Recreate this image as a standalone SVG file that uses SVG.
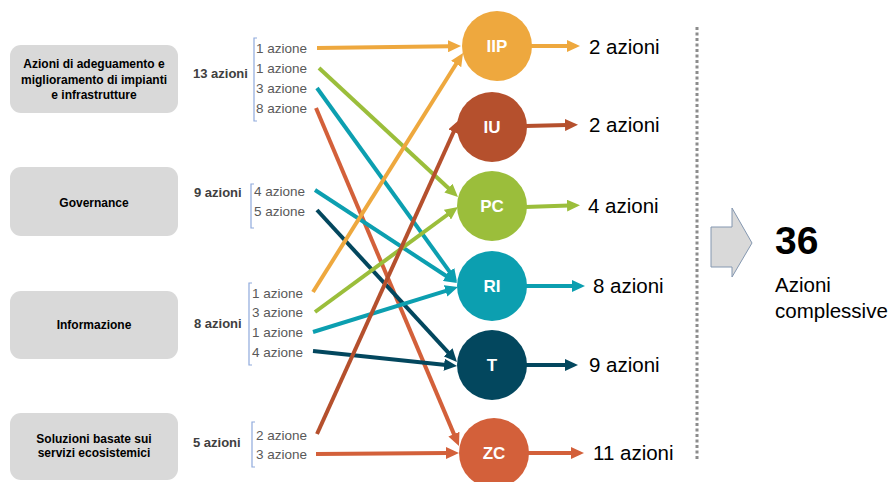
<svg xmlns="http://www.w3.org/2000/svg" width="892" height="482" viewBox="0 0 892 482">
<style>
.box{fill:#d9d9d9}
.bt{font-family:"Liberation Sans",Arial,sans-serif;font-size:12px;font-weight:bold;fill:#000;text-anchor:middle}
.tot{font-family:"Liberation Sans",Arial,sans-serif;font-size:13px;font-weight:bold;fill:#404040}
.act{font-family:"Liberation Sans",Arial,sans-serif;font-size:13.5px;fill:#595959}
.br{fill:none;stroke:#8faadc;stroke-width:1.2}
.cl{font-family:"Liberation Sans",Arial,sans-serif;font-size:17px;font-weight:bold;fill:#fff;text-anchor:middle}
.out{font-family:"Liberation Sans",Arial,sans-serif;font-size:20.5px;fill:#000}
.ln{fill:none;stroke-width:4}
</style>
<defs>
<marker id="mO" viewBox="0 0 13 12" refX="2" refY="6" markerWidth="13" markerHeight="12" markerUnits="userSpaceOnUse" orient="auto"><path d="M0,0 L13,6 L0,12 z" fill="#eea83e"/></marker>
<marker id="mB" viewBox="0 0 13 12" refX="2" refY="6" markerWidth="13" markerHeight="12" markerUnits="userSpaceOnUse" orient="auto"><path d="M0,0 L13,6 L0,12 z" fill="#b5502d"/></marker>
<marker id="mG" viewBox="0 0 13 12" refX="2" refY="6" markerWidth="13" markerHeight="12" markerUnits="userSpaceOnUse" orient="auto"><path d="M0,0 L13,6 L0,12 z" fill="#9bbe3b"/></marker>
<marker id="mT" viewBox="0 0 13 12" refX="2" refY="6" markerWidth="13" markerHeight="12" markerUnits="userSpaceOnUse" orient="auto"><path d="M0,0 L13,6 L0,12 z" fill="#0c9fb0"/></marker>
<marker id="mD" viewBox="0 0 13 12" refX="2" refY="6" markerWidth="13" markerHeight="12" markerUnits="userSpaceOnUse" orient="auto"><path d="M0,0 L13,6 L0,12 z" fill="#03475e"/></marker>
<marker id="mZ" viewBox="0 0 13 12" refX="2" refY="6" markerWidth="13" markerHeight="12" markerUnits="userSpaceOnUse" orient="auto"><path d="M0,0 L13,6 L0,12 z" fill="#d3603a"/></marker>
</defs>
<rect width="892" height="482" fill="#fff"/>

<g id="box-adeguamento">
<rect class="box" x="10" y="45" width="168" height="68" rx="11"/>
<text class="bt" x="94" y="68">Azioni di adeguamento e</text>
<text class="bt" x="94" y="83.5">miglioramento di impianti</text>
<text class="bt" x="94" y="99">e infrastrutture</text>
<text class="tot" x="193" y="78">13 azioni</text>
<path class="br" d="M257,38 H254 V121 H257"/>
<text class="act" x="256" y="53">1 azione</text>
<text class="act" x="256" y="73">1 azione</text>
<text class="act" x="256" y="93">3 azione</text>
<text class="act" x="256" y="113">8 azione</text>
</g>
<g id="box-governance">
<rect class="box" x="10" y="167" width="168" height="69" rx="11"/>
<text class="bt" x="94" y="207">Governance</text>
<text class="tot" x="194" y="197">9 azioni</text>
<path class="br" d="M254,184 H251 V228 H254"/>
<text class="act" x="254" y="196">4 azione</text>
<text class="act" x="254" y="216">5 azione</text>
</g>
<g id="box-informazione">
<rect class="box" x="10" y="291" width="168" height="68" rx="11"/>
<text class="bt" x="94" y="329">Informazione</text>
<text class="tot" x="194" y="328">8 azioni</text>
<path class="br" d="M252,283 H249 V365 H252"/>
<text class="act" x="252" y="298">1 azione</text>
<text class="act" x="252" y="317">3 azione</text>
<text class="act" x="252" y="337">1 azione</text>
<text class="act" x="252" y="357">4 azione</text>
</g>
<g id="box-soluzioni">
<rect class="box" x="10" y="413" width="168" height="67" rx="11"/>
<text class="bt" x="94" y="443">Soluzioni basate sui</text>
<text class="bt" x="94" y="457">servizi ecosistemici</text>
<text class="tot" x="193" y="447">5 azioni</text>
<path class="br" d="M255,422 H252 V467 H255"/>
<text class="act" x="256" y="440">2 azione</text>
<text class="act" x="256" y="459">3 azione</text>
</g>

<g id="connectors">
<line class="ln" stroke="#eea83e" x1="317" y1="48" x2="450" y2="46.2" marker-end="url(#mO)"/>
<line class="ln" stroke="#9bbe3b" x1="319" y1="68" x2="449.9" y2="189.5" marker-end="url(#mG)"/>
<line class="ln" stroke="#0c9fb0" x1="317" y1="88" x2="450.6" y2="273.1" marker-end="url(#mT)"/>
<line class="ln" stroke="#d3603a" x1="316" y1="108" x2="454.7" y2="435.9" marker-end="url(#mZ)"/>
<line class="ln" stroke="#0c9fb0" x1="315" y1="190" x2="447.8" y2="277" marker-end="url(#mT)"/>
<line class="ln" stroke="#03475e" x1="317" y1="210" x2="449.5" y2="353.9" marker-end="url(#mD)"/>
<line class="ln" stroke="#eea83e" x1="313" y1="292" x2="457.2" y2="62.3" marker-end="url(#mO)"/>
<line class="ln" stroke="#9bbe3b" x1="315" y1="312" x2="449.1" y2="213.5" marker-end="url(#mG)"/>
<line class="ln" stroke="#0c9fb0" x1="313" y1="332" x2="447.5" y2="290.3" marker-end="url(#mT)"/>
<line class="ln" stroke="#03475e" x1="313" y1="351" x2="446.1" y2="364.9" marker-end="url(#mD)"/>
<line class="ln" stroke="#b5502d" x1="317" y1="434" x2="454.5" y2="130" marker-end="url(#mB)"/>
<line class="ln" stroke="#d3603a" x1="316" y1="454" x2="448" y2="453" marker-end="url(#mZ)"/>

<line class="ln" stroke="#eea83e" x1="530" y1="46" x2="569" y2="46" marker-end="url(#mO)"/>
<line class="ln" stroke="#b5502d" x1="525" y1="126" x2="567" y2="125" marker-end="url(#mB)"/>
<line class="ln" stroke="#9bbe3b" x1="525" y1="207" x2="569" y2="205.5" marker-end="url(#mG)"/>
<line class="ln" stroke="#0c9fb0" x1="525" y1="286" x2="574" y2="286" marker-end="url(#mT)"/>
<line class="ln" stroke="#03475e" x1="525" y1="365" x2="567" y2="365" marker-end="url(#mD)"/>
<line class="ln" stroke="#d3603a" x1="527" y1="453" x2="573" y2="453" marker-end="url(#mZ)"/>
</g>

<g id="node-IIP"><circle cx="497" cy="46" r="35" fill="#eea83e"/><text class="cl" x="497" y="52">IIP</text><text class="out" x="589" y="54">2 azioni</text></g>
<g id="node-IU"><circle cx="492" cy="127" r="35" fill="#b5502d"/><text class="cl" x="492" y="133">IU</text><text class="out" x="589" y="132">2 azioni</text></g>
<g id="node-PC"><circle cx="492" cy="206" r="35" fill="#9bbe3b"/><text class="cl" x="492" y="212">PC</text><text class="out" x="588" y="213">4 azioni</text></g>
<g id="node-RI"><circle cx="492" cy="286" r="35" fill="#0c9fb0"/><text class="cl" x="492" y="292">RI</text><text class="out" x="593" y="293">8 azioni</text></g>
<g id="node-T"><circle cx="492" cy="365" r="35" fill="#03475e"/><text class="cl" x="492" y="371">T</text><text class="out" x="589" y="372">9 azioni</text></g>
<g id="node-ZC"><circle cx="494" cy="453" r="35" fill="#d3603a"/><text class="cl" x="494" y="459">ZC</text><text class="out" x="593" y="460">11 azioni</text></g>

<g id="total">
<line x1="697" y1="27" x2="697" y2="461" stroke="#8c8c8c" stroke-width="3" stroke-dasharray="3 2.5"/>
<path d="M711,227 H732 V208 L752,243 L732,277 V267 H711 z" fill="#d9d9d9" stroke="#8497b0" stroke-width="1"/>
<text x="775" y="254" font-family="Liberation Sans, Arial, sans-serif" font-size="39" font-weight="bold" fill="#000">36</text>
<text x="775" y="292" font-family="Liberation Sans, Arial, sans-serif" font-size="20.5" fill="#000">Azioni</text>
<text x="775" y="318" font-family="Liberation Sans, Arial, sans-serif" font-size="20.5" fill="#000">complessive</text>
</g>
</svg>
